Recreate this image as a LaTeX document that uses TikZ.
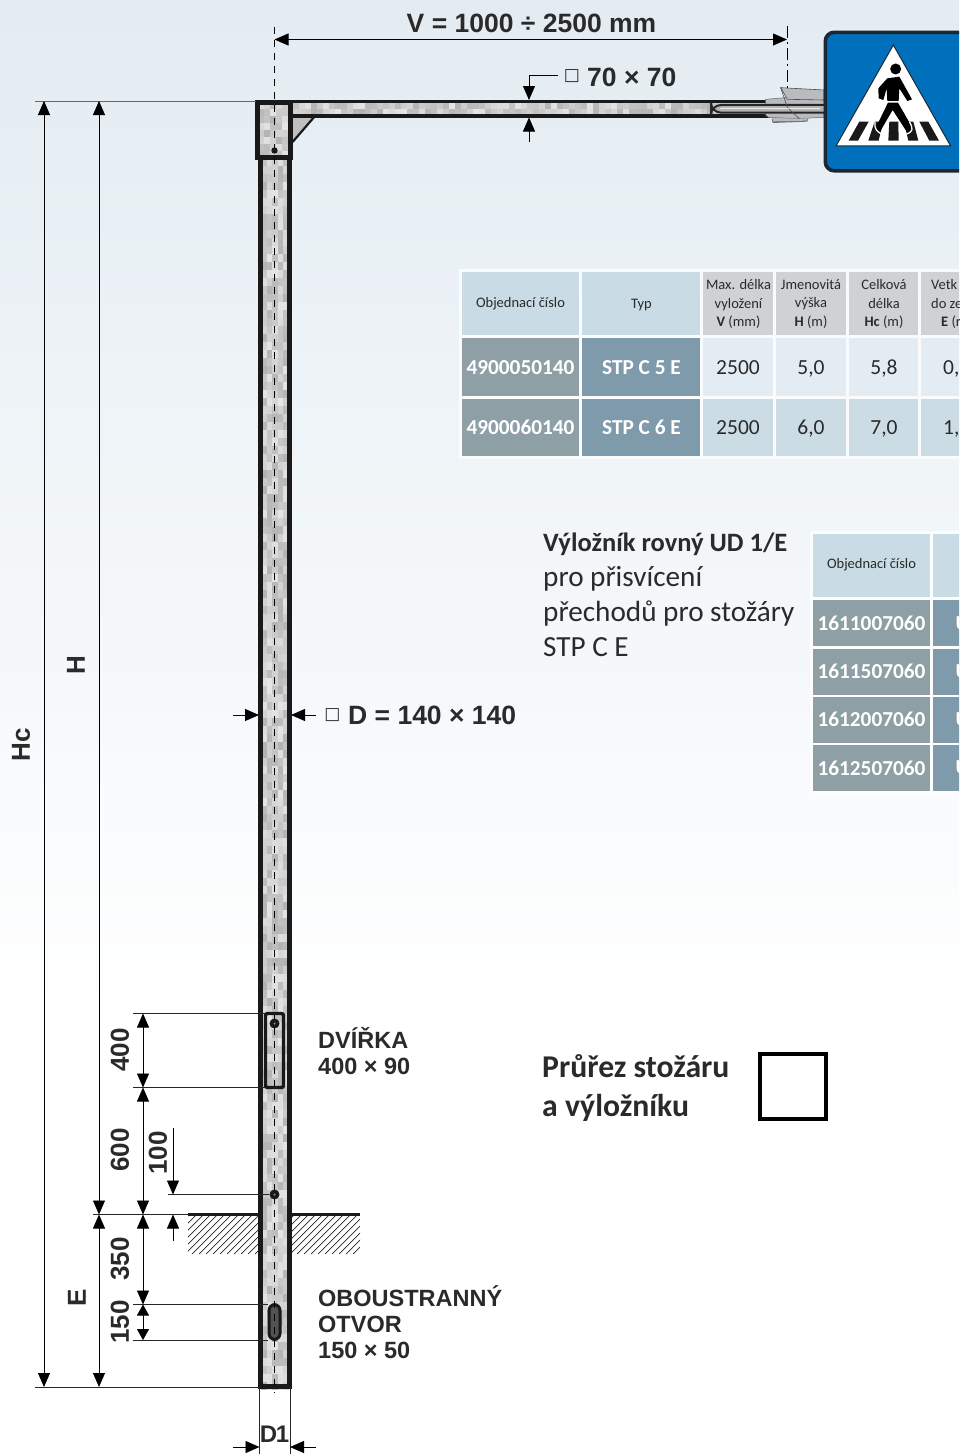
\documentclass[tikz,border=0pt]{standalone}
\usepackage{fontspec}
\setmainfont{Liberation Sans}
\newfontfamily\calfnt{Carlito}
\newfontfamily\djfnt{DejaVu Sans}
\usetikzlibrary{arrows.meta}
\newcommand\fsz[2]{\fontsize{#1}{#2}\selectfont}
\definecolor{hdra}{HTML}{C9DBE4}
\definecolor{hdrb}{HTML}{CFD2D3}
\definecolor{rowa}{HTML}{E3ECF2}
\definecolor{rowb}{HTML}{CBDCE5}
\definecolor{numc}{HTML}{8E9FA6}
\definecolor{typc}{HTML}{7F9AAA}
\definecolor{signb}{HTML}{0070BC}
\definecolor{signe}{HTML}{1B2733}
\definecolor{txt}{HTML}{2A2A2A}
\definecolor{brk}{HTML}{B9BBBE}
\newcommand\mottle[6]{% x0 y0 cols rows bw bh
  \foreach \ci in {1,...,#3}{\foreach \cj in {1,...,#4}{%
    \pgfmathsetmacro\gv{0.70+0.20*rnd}%
    \definecolor{tx}{gray}{\gv}%
    \fill[tx] ({#1+(\ci-1)*#5},{#2+(\cj-1)*#6}) rectangle ++(#5,#6);}}}
\tikzset{
  x=1pt,y=-1pt,
  dimline/.style={draw=black,line width=.8pt,{Triangle[length=14pt,width=12pt]}-{Triangle[length=14pt,width=12pt]}},
  onetip/.style={draw=black,line width=.8pt,-{Triangle[length=14pt,width=12pt]}},
  extline/.style={draw=black!85,line width=.8pt},
  steel/.style={draw=black!90,line width=4.2pt},
  dimtxt/.style={font=\bfseries\fsz{26}{26},text=txt,inner sep=0pt},
  lbltxt/.style={font=\bfseries\fsz{23.5}{26},text=txt,inner sep=0pt,anchor=west,align=left},
  hcell/.style={font=\calfnt\fsz{14.5}{18.5},text=txt,inner sep=0pt,align=center},
  numcell/.style={font=\calfnt\bfseries\fsz{21.3}{22},text=white,inner sep=0pt},
  valcell/.style={font=\calfnt\fsz{21.5}{22},text=txt,inner sep=0pt,text height=14pt,text depth=3pt},
  sq/.style={font=\djfnt\fsz{17}{17},text=txt,inner sep=0pt},
}
\begin{document}
\begin{tikzpicture}
\useasboundingbox (0,0) rectangle (959,1454);
\clip (0,0) rectangle (959,1454);
\fill[white] (0,0) rectangle (959,1454);
\shade[top color=rowa,bottom color=white] (0,0) rectangle (959,1020);
% ---------- tables
\fill[white,opacity=.7] (459,269) rectangle (970,459);
\fill[hdra] (461.5,272) rectangle (579,335);
\fill[hdra] (582,272) rectangle (700,335);
\fill[hdrb] (703,272) rectangle (773,335);
\fill[hdrb] (776,272) rectangle (846,335);
\fill[hdrb] (849,272) rectangle (918,335);
\fill[hdrb] (921,272) rectangle (970,335);
\fill[numc] (461.5,338) rectangle (579,396);
\fill[typc] (582,338) rectangle (700,396);
\fill[numc] (461.5,399) rectangle (579,456);
\fill[typc] (582,399) rectangle (700,456);
\foreach \a/\b in {703/773,776/846,849/918,921/970}{
  \fill[rowa] (\a,338) rectangle (\b,396);
  \fill[rowb] (\a,399) rectangle (\b,456);}
\node[hcell] (t1a) at (520.5,304) {Objednací číslo};
\node[hcell] (t1b) at (641.5,305.5) {Typ};
\node[hcell] (t1c) at (738.5,304) {Max. délka\\vyložení\\\textbf{V} (mm)};
\node[hcell] (t1d) at (811,304) {Jmenovitá\\výška\\\textbf{H} (m)};
\node[hcell] (t1e) at (884,304) {Celková\\délka\\\textbf{Hc} (m)};
\node[hcell,anchor=west] (t1f) at (931,285) {Vetk};
\node[hcell,anchor=west] (t1g) at (931,303.5) {do ze};
\node[hcell,anchor=west] (t1h) at (941,322) {\textbf{E} (r};
\node[numcell] (r1a) at (520.5,367.5) {4900050140};
\node[numcell] (r1b) at (641.5,367.5) {STP C 5 E};
\node[valcell] (r1c) at (738,368.5) {2500};
\node[valcell] (r1d) at (811,368.5) {5,0};
\node[valcell] (r1e) at (884,368.5) {5,8};
\node[valcell,anchor=west] (r1f) at (943,368.5) {0,};
\node[numcell] (r2a) at (520.5,427.5) {4900060140};
\node[numcell] (r2b) at (641.5,427.5) {STP C 6 E};
\node[valcell] (r2c) at (738,428.5) {2500};
\node[valcell] (r2d) at (811,428.5) {6,0};
\node[valcell] (r2e) at (884,428.5) {7,0};
\node[valcell,anchor=west] (r2f) at (943,428.5) {1,};
% second table
\fill[white,opacity=.8] (810,531) rectangle (970,793);
\fill[hdra] (812.5,534) rectangle (930,597);
\fill[hdra] (933,534) rectangle (970,597);
\foreach \a/\b in {600/646,648.5/694.5,697/743,745/791}{
  \fill[numc] (812.5,\a) rectangle (930,\b);
  \fill[typc] (933,\a) rectangle (970,\b);}
\node[hcell] (u0) at (871.5,565) {Objednací číslo};
\node[numcell] (u1) at (871.5,623.5) {1611007060};
\node[numcell] (u2) at (871.5,671.5) {1611507060};
\node[numcell] (u3) at (871.5,719.5) {1612007060};
\node[numcell] (u4) at (871.5,768) {1612507060};
\foreach \n/\yy in {v1/623.5,v2/671.5,v3/719.5,v4/768}{
  \node[numcell,anchor=west] (\n) at (955.5,\yy) {U};}
% texts
\node[font=\calfnt\fsz{29.2}{35.2},text=txt,anchor=north west,align=left,inner sep=0pt] (vyl) at (543,532.5)
  {{\bfseries\fsz{26.5}{35.2}Výložník rovný UD 1/E}\\pro přisvícení\\přechodů pro stožáry\\STP C E};
\node[font=\calfnt\bfseries\fsz{31.7}{39},text=txt,anchor=west,align=left,inner sep=0pt] (pru) at (542,1087.5)
  {Průřez stožáru\\a výložníku};
\node[draw=black,line width=4.5pt,minimum width=66pt,minimum height=65pt,inner sep=0pt] (prsq) at (793,1086.5) {};
% ---------- hatching and ground
\begin{scope}
\clip (188,1216) rectangle (259,1254) (291,1216) rectangle (360,1254);
\foreach \hx in {150,157,...,360}{
  \draw[black!85,line width=.7pt] (\hx,1254) -- ++(40,-40);}
\end{scope}
\coordinate (gA) at (188,1214.5); \coordinate (gB) at (259,1214.5);
\coordinate (gC) at (291,1214.5); \coordinate (gD) at (360,1214.5);
\draw[black!90,line width=2.6pt] (gA) -- (gB);
\draw[black!90,line width=2.6pt] (gC) -- (gD);
% ---------- pole texture
\pgfmathsetseed{4242}
\fill[black!22] (260,158) rectangle (290,1386);
\mottle{261}{158}{5}{154}{5.6}{8}
\fill[black!22] (292,102) rectangle (770,115);
\mottle{293}{102.5}{70}{2}{6}{6}
\mottle{258}{102}{5}{8}{6}{7}
% strut
\coordinate (stA) at (292.6,116); \coordinate (stB) at (315,116); \coordinate (stC) at (292.6,142);
\fill[black!25] (stA) -- (stB) -- (stC) -- cycle;
\draw[black!90,line width=2.2pt] (stB) -- (stC);
% pole outline
\coordinate (pL0) at (260.5,158); \coordinate (pL1) at (260.5,1386.5);
\coordinate (pR0) at (289.5,158); \coordinate (pR1) at (289.5,1386.5);
\draw[steel,line join=miter] (pL0) -- (pL1) -- (pR1) -- (pR0);
% arm
\coordinate (aT0) at (292,101.5); \coordinate (aT1) at (770,101.5);
\coordinate (aB0) at (292,116); \coordinate (aB1) at (770,116);
\draw[black!90,line width=3.4pt] (aT0) -- (aT1);
\draw[black!90,line width=3.4pt] (aB0) -- (aB1);
\node[draw=black!90,line width=5pt,minimum width=32.5pt,minimum height=55pt,inner sep=0pt] (head) at (274.2,129.5) {};
% bracket, drawn in zoomed coordinates
\begin{scope}[shift={(700,20)},x=.3333pt,y=-.3333pt]
\fill[brk,draw=black!60,line width=.5pt] (197,238) -- (255,233) -- (372,240) -- (372,292) -- (290,296) -- (205,292) -- (197,285) -- cycle;
\fill[black!55] (215,296) -- (325,296) -- (322,305) -- (218,309) -- cycle;
\fill[brk] (218,296) -- (322,296) -- (320,302) -- (220,304) -- cycle;
\fill[brk,draw=black!70,line width=.6pt] (242,203) -- (372,210) -- (372,240) -- (262,238) -- cycle;
\fill[black!30,draw=black!85,line width=2pt,rounded corners=10] (372,255) -- (33,255) -- (33,278) -- (372,278);
\draw[black!70,line width=.6pt] (242,203) -- (262,262) -- (298,296);
\draw[white,line width=1pt,opacity=.7] (60,265) -- (360,266);
\end{scope}
% ---------- sign
\node[draw=signe,fill=signb,line width=3.6pt,rounded corners=9pt,minimum width=150pt,minimum height=138.5pt,inner sep=0pt,anchor=north west] (sign) at (823.5,30.5) {};
\begin{scope}[shift={(700,20)},x=.3333pt,y=-.3333pt]
\fill[white,draw=signe,line width=1pt,line join=miter] (580,75) -- (752,378) -- (408,378) -- cycle;
\fill[black!90] (478,305) -- (506,305) -- (474,362) -- (446,362) -- cycle;
\fill[black!90] (524,305) -- (550,305) -- (536,362) -- (505,362) -- cycle;
\fill[black!90] (568,305) -- (595,305) -- (596,362) -- (565,362) -- cycle;
\fill[black!90] (612,305) -- (640,305) -- (655,362) -- (625,362) -- cycle;
\fill[black!90] (658,305) -- (685,305) -- (717,362) -- (688,362) -- cycle;
\fill[black] (587,147) circle (16.5);
\fill[black] (562,175) -- (598,170) -- (636,238) -- (622,243) -- (598,205) -- (596,243) -- (562,243) -- (560,205) -- (550,240) -- (536,235) -- (535,205) -- cycle;
\fill[black] (564,248) -- (594,248) -- (640,328) -- (622,338) -- (578,270) -- (540,335) -- (525,328) -- cycle;
\draw[white,line width=1.3pt] (525,305) .. controls (522,325) and (530,335) .. (545,342);
\draw[white,line width=1.3pt] (628,305) .. controls (640,325) and (640,335) .. (620,342);
\end{scope}
% ---------- door, slot, holes
\node[draw=black!90,line width=3.4pt,rounded corners=2pt,minimum width=18pt,minimum height=74pt,inner sep=0pt] (door) at (274.5,1050.5) {};
\node[draw=black!90,fill=black!68,line width=3pt,rounded corners=6pt,minimum width=11pt,minimum height=35pt,inner sep=0pt] (slot) at (274.5,1322) {};
% ---------- centre lines
\coordinate (cT) at (274.5,27); \coordinate (cB) at (274.5,1393);
\draw[black,line width=1pt,dash pattern=on 7pt off 6pt] (cT) -- (cB);
\coordinate (rT) at (787,26); \coordinate (rB) at (787,88);
\draw[black,line width=1pt,dash pattern=on 12pt off 4pt on 2pt off 4pt] (rT) -- (rB);
\fill[black!90] (274.5,150.5) circle (3.2);
\node[circle,fill=black!90,minimum size=10pt,inner sep=0pt] (hole1) at (274.5,1194.5) {};
\node[circle,fill=black!90,minimum size=10pt,inner sep=0pt] (hole2) at (274.5,1023.5) {};
\fill[black!40] (274.5,1194.5) circle (1);
\fill[black!40] (274.5,1023.5) circle (1);
% ---------- extension lines
\coordinate (e1a) at (35,101); \coordinate (e1b) at (256,101);
\draw[extline,black!60] (e1a) -- (e1b);
\coordinate (e2a) at (35,1387); \coordinate (e2b) at (259,1387);
\draw[extline] (e2a) -- (e2b);
\coordinate (e3a) at (93,1214.5); \draw[extline] (e3a) -- (gA);
\coordinate (e4a) at (133,1013.5); \coordinate (e4b) at (265,1013.5); \draw[extline] (e4a) -- (e4b);
\coordinate (e5a) at (133,1087.5); \coordinate (e5b) at (265,1087.5); \draw[extline] (e5a) -- (e5b);
\coordinate (e6a) at (133,1304.5); \coordinate (e6b) at (268,1304.5); \draw[extline] (e6a) -- (e6b);
\coordinate (e7a) at (133,1340); \coordinate (e7b) at (268,1340); \draw[extline] (e7a) -- (e7b);
\coordinate (e8a) at (168,1194.5); \draw[extline] (e8a) -- (hole1);
\coordinate (e9a) at (259.5,1387); \coordinate (e9b) at (259.5,1454); \draw[extline] (e9a) -- (e9b);
\coordinate (e10a) at (290,1387); \coordinate (e10b) at (290,1454); \draw[extline] (e10a) -- (e10b);
% ---------- dimension lines
\coordinate (hcT) at (44,101); \coordinate (hcB) at (44,1387);
\draw[dimline] (hcT) -- (hcB);
\coordinate (hT) at (99,101); \coordinate (hB) at (99,1214.5);
\draw[dimline] (hT) -- (hB);
\coordinate (eB) at (99,1387);
\draw[dimline] (hB) -- (eB);
\coordinate (d1) at (143,1013.5); \coordinate (d2) at (143,1087.5); \coordinate (d3) at (143,1214.5);
\coordinate (d4) at (143,1304.5); \coordinate (d5) at (143,1340);
\draw[dimline] (d1) -- (d2);
\draw[dimline] (d2) -- (d3);
\draw[dimline] (d3) -- (d4);
\draw[draw=black,line width=.8pt,{Triangle[length=11pt,width=12pt]}-{Triangle[length=11pt,width=12pt]}] (d4) -- (d5);
\coordinate (c1a) at (173,1128); \coordinate (c1b) at (173,1194.5);
\coordinate (c2a) at (173,1241); \coordinate (c2b) at (173,1214.5);
\draw[onetip] (c1a) -- (c1b);
\draw[onetip] (c2a) -- (c2b);
\coordinate (vL) at (274.5,39.5); \coordinate (vR) at (787,39.5);
\draw[dimline] (vL) -- (vR);
\coordinate (sq0) at (558,75); \coordinate (sq1) at (529,75); \coordinate (sq2) at (529,100);
\draw[onetip] (sq0) -- (sq1) -- (sq2);
\coordinate (sq3) at (529,142); \coordinate (sq4) at (529,117.5);
\draw[onetip] (sq3) -- (sq4);
\coordinate (dl0) at (233,715); \coordinate (dl1) at (259,715);
\coordinate (dr0) at (316,715); \coordinate (dr1) at (291,715);
\draw[onetip] (dl0) -- (dl1);
\draw[onetip] (dr0) -- (dr1);
\coordinate (ol0) at (233,1447); \coordinate (ol1) at (259.5,1447);
\coordinate (or0) at (316,1447); \coordinate (or1) at (290,1447);
\draw[onetip] (ol0) -- (ol1);
\draw[onetip] (or0) -- (or1);
% ---------- dimension labels
\node[dimtxt,font=\bfseries\fsz{26.5}{26}] (lV) at (531.5,23) {V = 1000 ÷ 2500 mm};
\node[sq] (s70) at (572,76.5) {□};
\node[dimtxt,font=\bfseries\fsz{26.5}{26},anchor=west] (l70) at (587,77) {70 × 70};
\node[sq] (sD) at (332.5,715.5) {□};
\node[dimtxt,font=\bfseries\fsz{26.5}{26},anchor=west] (lD) at (348,715) {D = 140 × 140};
\node[dimtxt,rotate=90] (lHc) at (21,745) {Hc};
\node[dimtxt,rotate=90] (lH) at (76,665) {H};
\node[dimtxt,rotate=90] (lE) at (77,1298) {E};
\node[dimtxt,rotate=90] (l400) at (120,1050) {400};
\node[dimtxt,rotate=90] (l600) at (120,1150) {600};
\node[dimtxt,rotate=90] (l100) at (158,1153) {100};
\node[dimtxt,rotate=90] (l350) at (120,1259) {350};
\node[dimtxt,rotate=90] (l150) at (120,1322) {150};
\node[dimtxt,font=\bfseries\fsz{24}{24}] (lD1) at (274.5,1434) {D\kern-1.5pt 1};
\node[lbltxt] (ldv) at (318,1051.5) {DVÍŘKA\\400 × 90};
\node[lbltxt] (lot) at (318,1322.5) {OBOUSTRANNÝ\\OTVOR\\150 × 50};
\end{tikzpicture}
\end{document}
